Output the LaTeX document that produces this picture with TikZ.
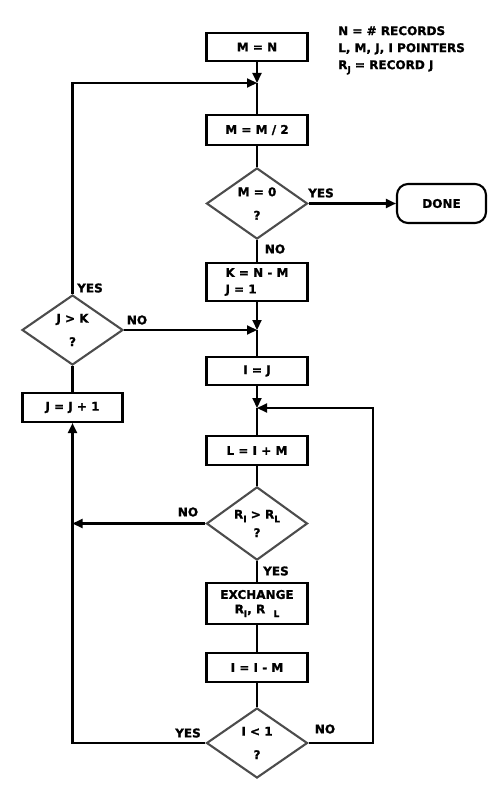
\documentclass[tikz,border=0pt]{standalone}
\usepackage{fontspec}
\setmainfont{DejaVu Sans}[BoldFeatures={FakeBold=1.2}]
\usetikzlibrary{shapes.geometric,arrows.meta}
\newcommand{\lo}[1]{\raisebox{-0.55ex}{\small #1}}
\begin{document}
\begin{tikzpicture}[x=1pt,y=-1pt,
  font=\fontsize{12}{13.5}\selectfont\bfseries,
  box/.style={draw,line width=2.1pt,minimum width=101pt,inner sep=0pt},
  dia/.style={diamond,draw=black!70,line width=2.1pt,minimum width=101pt,minimum height=70pt,inner sep=0pt,align=center},
  conn/.style={line width=2.1pt},
  arr/.style={line width=2.1pt,-{Triangle[length=10pt,width=9pt]}},
  lbl/.style={inner sep=0pt}]
\useasboundingbox (0,0) rectangle (500,802);

% legend
\node[lbl,anchor=north west,align=left,font=\fontsize{12}{17}\selectfont\bfseries] (legend) at (338,26)
  {N = \# RECORDS\\L, M, J, I POINTERS\\R\lo{J} = RECORD J};

% nodes
\node[box,minimum height=28pt] (mn) at (257,47) {M = N};
\coordinate (m1) at (257,83);
\node[box,minimum height=30pt] (mm2) at (257,130) {M = M / 2};
\node[dia] (d1) at (257,203.5) {M = 0\\[10pt]?};
\node[draw,line width=2.1pt,rounded corners=11pt,minimum width=89pt,minimum height=39pt] (done) at (441.5,203.5) {DONE};
\node[box,minimum height=38pt,align=left] (knm) at (257,282) {K = N - M\\[3pt]J = 1};
\coordinate (m2) at (257,330);
\node[dia] (jk) at (72.5,330) {J > K\\[10pt]?};
\node[box,minimum height=28pt] (ij) at (257,371) {I = J};
\coordinate (m3) at (257,408);
\node[box,minimum height=29pt,minimum width=100pt] (jj1) at (72.5,407.5) {J = J + 1};
\node[box,minimum height=29pt] (lim) at (257,450.5) {L = I + M};
\node[dia,minimum height=69pt] (d2) at (257,523.5) {R\lo{I} > R\lo{L}\\[5pt]?};
\node[box,minimum height=41pt,align=center] (exch) at (257,603.5) {EXCHANGE\\[1pt]R\lo{I}, R\ \ \lo{L}};
\node[box,minimum height=29pt] (iim) at (257,667.5) {I = I - M};
\node[dia] (d3) at (257,743) {I < 1\\[10pt]?};
\coordinate (rc) at (373,743);

% connectors
\draw[arr] (mn.south) -- (m1);
\draw[conn] (m1) -- (mm2.north);
\draw[conn] (mm2.south) -- (d1.north);
\draw[arr] (d1.east) -- (done.west);
\draw[conn] (d1.south) -- (knm.north);
\draw[arr] (knm.south) -- (m2);
\draw[conn] (m2) -- (ij.north);
\draw[arr] (jk.east) -- (m2);
\draw[arr] (jk.north) |- (m1);
\draw[conn] (jk.south) -- (jj1.north);
\draw[arr] (ij.south) -- (m3);
\draw[conn] (m3) -- (lim.north);
\draw[conn] (lim.south) -- (d2.north);
\draw[arr] (d2.west) -- (d2.west -| jj1.south);
\draw[conn] (d2.south) -- (exch.north);
\draw[conn] (exch.south) -- (iim.north);
\draw[conn] (iim.south) -- (d3.north);
\draw[arr] (d3.west) -| (jj1.south);
\draw[arr] (d3.east) -- (rc) |- (m3);

% labels
\node[lbl] (l1) at (321,193) {YES};
\node[lbl] (l2) at (275,249) {NO};
\node[lbl] (l3) at (90,288) {YES};
\node[lbl] (l4) at (137,320) {NO};
\node[lbl] (l5) at (188,512) {NO};
\node[lbl] (l6) at (276,571) {YES};
\node[lbl] (l7) at (188,733) {YES};
\node[lbl] (l8) at (325,729) {NO};
\end{tikzpicture}
\end{document}
